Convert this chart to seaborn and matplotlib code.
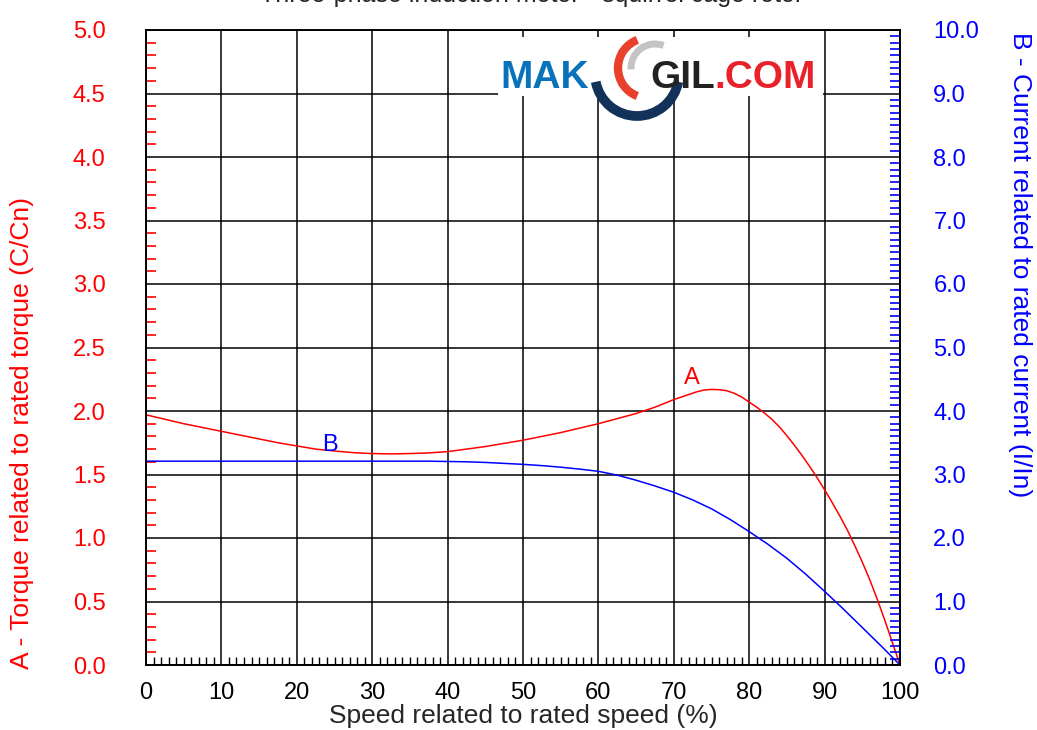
import matplotlib
matplotlib.use("Agg")
import matplotlib.pyplot as plt
import matplotlib.patches as mpatches
import matplotlib.ticker as mticker
import pandas as pd
import seaborn as sns

# Curve A - torque related to rated torque (left axis)
speedA = [0, 2.5, 5, 7.5, 10, 12.5, 15, 17.5, 20, 22.5, 25, 27.5, 30, 32.5, 35, 37.5,
          40, 42.5, 45, 47.5, 50, 52.5, 55, 57.5, 60, 62.5, 65, 67.5, 70, 71.5, 73, 74,
          75, 76, 77, 78, 79, 80, 81, 82, 83, 84, 85, 86, 87, 88, 89, 90, 91, 92, 93,
          94, 95, 96, 97, 98, 99, 100]
torqueA = [1.97, 1.935, 1.90, 1.87, 1.84, 1.81, 1.78, 1.75, 1.725, 1.70, 1.685, 1.672,
           1.665, 1.662, 1.665, 1.67, 1.68, 1.70, 1.72, 1.745, 1.77, 1.80, 1.83, 1.865,
           1.90, 1.94, 1.98, 2.03, 2.09, 2.12, 2.15, 2.165, 2.17, 2.168, 2.16, 2.14,
           2.11, 2.07, 2.03, 1.985, 1.935, 1.875, 1.805, 1.73, 1.65, 1.565, 1.475, 1.38,
           1.28, 1.175, 1.065, 0.94, 0.81, 0.67, 0.515, 0.35, 0.175, 0.0]

# Curve B - current related to rated current (right axis)
speedB = [0, 10, 20, 30, 35, 37.5, 40, 42.5, 45, 47.5, 50, 52.5, 55, 57.5, 60, 62.5,
          65, 67.5, 70, 72.5, 75, 77.5, 80, 82.5, 85, 87.5, 90, 92.5, 95, 97.5, 100]
currentB = [3.21, 3.21, 3.21, 3.21, 3.21, 3.21, 3.205, 3.20, 3.19, 3.175, 3.16, 3.14,
            3.115, 3.085, 3.05, 2.99, 2.91, 2.82, 2.72, 2.60, 2.46, 2.29, 2.10, 1.90, 1.68,
            1.43, 1.16, 0.88, 0.59, 0.30, 0.0]

dfA = pd.DataFrame({"speed": speedA, "torque": torqueA})
dfB = pd.DataFrame({"speed": speedB, "current": currentB})

sns.set_style("white")
plt.rcParams["font.family"] = ["Liberation Sans", "DejaVu Sans"]

W, H = 1037, 730
fig = plt.figure(figsize=(W / 100, H / 100), dpi=100)
ax = fig.add_axes([146 / W, 1 - 665 / H, 754 / W, 635 / H])
ax2 = ax.twinx()

sns.lineplot(data=dfA, x="speed", y="torque", ax=ax, color="#ff0000", lw=1.1)
sns.lineplot(data=dfB, x="speed", y="current", ax=ax2, color="#0000ff", lw=1.1)

ax.set_xlim(0, 100)
ax.set_ylim(0, 5)
ax2.set_ylim(0, 10)

ax.xaxis.set_major_locator(mticker.MultipleLocator(10))
ax.xaxis.set_minor_locator(mticker.MultipleLocator(1))
ax.yaxis.set_major_locator(mticker.MultipleLocator(0.5))
ax.yaxis.set_minor_locator(mticker.MultipleLocator(0.1))
ax.yaxis.set_major_formatter(mticker.FormatStrFormatter("%.1f"))
ax2.yaxis.set_major_locator(mticker.MultipleLocator(1))
ax2.yaxis.set_minor_locator(mticker.MultipleLocator(0.1))
ax2.yaxis.set_major_formatter(mticker.FormatStrFormatter("%.1f"))

ax.grid(True, which="major", color="black", lw=1.1)
ax.set_axisbelow(True)

ax.tick_params(axis="x", which="major", length=0, pad=12, labelsize=17, colors="black")
ax.tick_params(axis="x", which="minor", direction="in", length=6, width=1, color="black", bottom=True)
ax.tick_params(axis="y", which="major", length=0, pad=29, labelsize=17, labelcolor="#ff0000")
ax.tick_params(axis="y", which="minor", direction="in", length=7, width=1.2, color="#ff0000", left=True)
ax2.tick_params(axis="y", which="major", length=0, pad=24, labelsize=17, labelcolor="#0000ff")
ax2.tick_params(axis="y", which="minor", direction="in", length=7, width=1.2, color="#0000ff", right=True)

for a in (ax, ax2):
    for s in a.spines.values():
        s.set_color("black")
        s.set_linewidth(1.2)

ax.set_xlabel("Speed related to rated speed (%)", fontsize=19, labelpad=0)
ax.set_ylabel("A - Torque related to rated torque (C/Cn)", fontsize=19, color="#ff0000")
ax2.set_ylabel("B - Current related to rated current (I/In)", fontsize=19, color="#0000ff",
               rotation=270)
ax.yaxis.label.set_verticalalignment("center")
ax2.yaxis.label.set_verticalalignment("center")
ax.yaxis.set_label_coords((22 - 146) / 754, (665 - 433) / 635)
ax2.yaxis.set_label_coords((1020 - 146) / 754, (665 - 265) / 635)

ax.text(72.4, 2.26, "A", color="#ff0000", fontsize=17, ha="center", va="center")
ax.text(24.4, 1.73, "B", color="#0000ff", fontsize=17, ha="center", va="center")

# title, mostly cut off by the top edge
fig.text(532 / W, 1 - 2 / H, "Three-phase induction motor - squirrel cage rotor",
         ha="center", va="baseline", fontsize=18)

# logo
fig.patches.append(mpatches.Rectangle((498 / W, 1 - 96 / H), 325 / W, 59 / H,
                                      transform=fig.transFigure, facecolor="white",
                                      edgecolor="none", zorder=5))
for x0, word, col in [(500, "MAK", "#0a72ba"), (650, "GIL", "#222222"), (714, ".COM", "#e8212a")]:
    fig.text(x0 / W, 1 - 88 / H, word, color=col, fontsize=28, fontweight="bold",
             va="baseline", zorder=6)
for cx, cy, r, t1, t2, col, lw in [
    (648, 68, 30, 105, 255, "#e8402a", 6),
    (655, 68, 24, 75, 185, "#c4c4c4", 5),
    (637, 74, 42, 195, 345, "#12325a", 7),
]:
    fig.patches.append(mpatches.Arc((cx / W, 1 - cy / H), 2 * r / W, 2 * r / H,
                                    theta1=t1, theta2=t2, color=col, lw=lw,
                                    transform=fig.transFigure, zorder=6))

fig.savefig("out.png", dpi=100)
